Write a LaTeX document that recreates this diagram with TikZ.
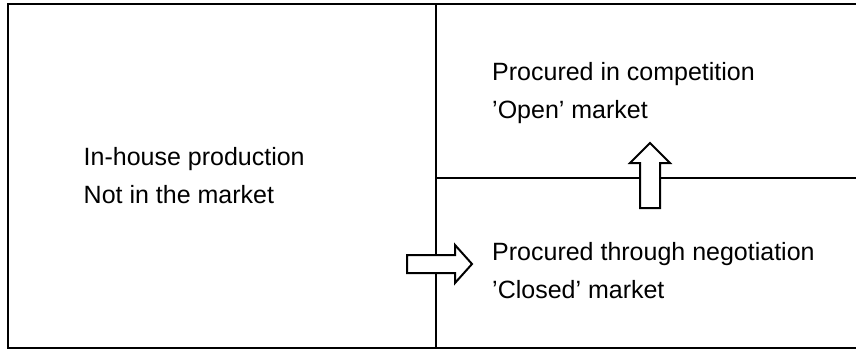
\documentclass[tikz,border=0pt]{standalone}
\usepackage{fontspec}
\setmainfont{Liberation Sans}
\begin{document}
\begin{tikzpicture}[x=1pt,y=-1pt,
  frame/.style={line width=2pt},
  blockarrow/.style={line width=2pt, fill=white, line join=miter},
  txt/.style={font=\fontsize{25}{38}\selectfont, align=left, inner sep=0pt, anchor=base west, text=black}]
\useasboundingbox (0,0) rectangle (856,350);
% frame
\draw[frame] (858,4.5) -- (7.5,4.5) -- (7.5,347.5) -- (858,347.5);
\coordinate (vtop) at (436,4.5);
\coordinate (vbot) at (436,347.5);
\coordinate (hl) at (436,178);
\coordinate (hr) at (858,178);
\draw[frame] (vtop) -- (vbot);
\draw[frame] (hl) -- (hr);
% texts (base anchor = baseline of last line)
\node[txt] (inhouse) at (83.5,203) {In-house production\\Not in the market};
\node[txt] (open) at (492,119) {Procured in competition\\’Open’ market};
\node[txt] (closed) at (492,298) {Procured through negotiation\\’Closed’ market};
% up arrow
\draw[blockarrow] (640,208) -- (640,163) -- (630,163) -- (650,143) -- (670,163) -- (660,163) -- (660,208) -- cycle;
% right arrow
\draw[blockarrow] (407,255) -- (455,255) -- (455,245) -- (472,264) -- (455,283) -- (455,273) -- (407,273) -- cycle;
\end{tikzpicture}
\end{document}
